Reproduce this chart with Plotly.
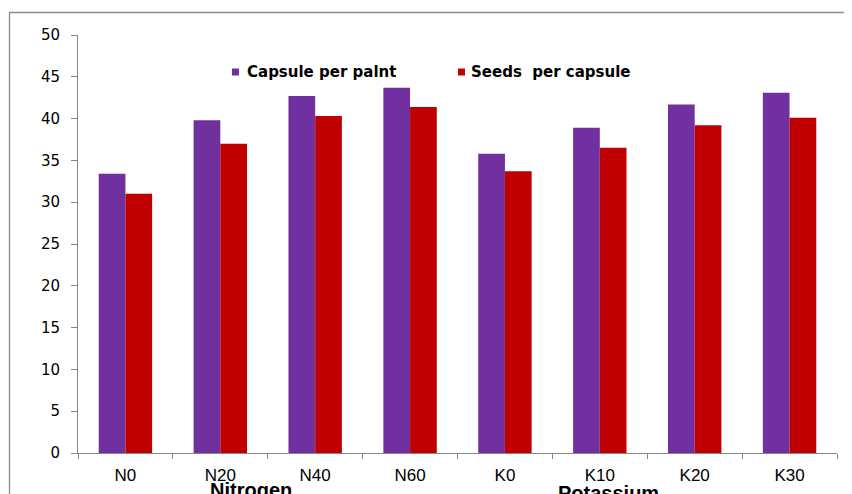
import plotly.graph_objects as go

categories = ["N0", "N20", "N40", "N60", "K0", "K10", "K20", "K30"]
capsule_per_plant = [33.4, 39.8, 42.7, 43.7, 35.8, 38.9, 41.7, 43.1]
seeds_per_capsule = [31.0, 37.0, 40.3, 41.4, 33.7, 36.5, 39.2, 40.1]
series_names = ["Capsule per palnt", "Seeds  per capsule"]
series_colors = ["#7030A0", "#C00000"]
group_labels = ["Nitrogen", "Potassium"]
y_ticks = [0, 5, 10, 15, 20, 25, 30, 35, 40, 45, 50]

arial = "Liberation Sans, Arial, sans-serif"
wide = "DejaVu Sans, sans-serif"
axis_color = "#868686"

# page offset of the figure (body margin) and plot area in page pixels
OFF = 8
PX0, PX1, PY0, PY1 = 78, 837, 35, 453


def px(x):
    return (x - PX0) / (PX1 - PX0)


def py(y):
    return (PY1 - y) / (PY1 - PY0)


fig = go.Figure()
fig.add_trace(go.Bar(x=categories, y=capsule_per_plant, name=series_names[0],
                     marker=dict(color=series_colors[0], line=dict(width=0))))
fig.add_trace(go.Bar(x=categories, y=seeds_per_capsule, name=series_names[1],
                     marker=dict(color=series_colors[1], line=dict(width=0))))

W, H = 852 - OFF, 494 - OFF
shapes = [dict(type="rect", xref="paper", yref="paper", x0=px(9.5), y0=py(520),
               x1=px(900), y1=py(12.5), line=dict(color="#8a8a8a", width=1.3),
               fillcolor="rgba(0,0,0,0)", layer="below")]
annotations = []
legend_sq_x = [232, 458]
legend_txt_x = [245, 469]
for i in range(2):
    shapes.append(dict(type="rect", xref="paper", yref="paper",
                       x0=px(legend_sq_x[i]), x1=px(legend_sq_x[i] + 7),
                       y0=py(75.5), y1=py(68.5), fillcolor=series_colors[i],
                       line=dict(width=0)))
    annotations.append(dict(text="<b>" + series_names[i] + "</b>", xref="paper",
                            yref="paper", x=px(legend_txt_x[i]), y=py(72),
                            xanchor="left", yanchor="middle", showarrow=False,
                            font=dict(family=wide, size=15, color="black")))
group_x = [251, 608]
group_y = [490, 493]
for i in range(2):
    annotations.append(dict(text="<b>" + group_labels[i] + "</b>", xref="paper",
                            yref="paper", x=px(group_x[i]), y=py(group_y[i]),
                            showarrow=False, font=dict(family=arial, size=20),
                            xanchor="center", yanchor="middle"))

fig.update_layout(
    width=W, height=H,
    margin=dict(l=PX0 - OFF, r=W - (PX1 - OFF), t=PY0 - OFF, b=H - (PY1 - OFF)),
    paper_bgcolor="white", plot_bgcolor="white",
    barmode="group", bargap=0.437, bargroupgap=0,
    font=dict(family=arial, size=14, color="black"),
    showlegend=False,
    xaxis=dict(showline=True, linecolor=axis_color, linewidth=1, ticks="outside",
               ticklen=5, tickcolor=axis_color, tickson="boundaries", showgrid=False,
               tickfont=dict(family=arial, size=17), ticklabelstandoff=7,
               fixedrange=True, automargin=False),
    yaxis=dict(range=[0, 50], tickvals=y_ticks, showline=True, linecolor=axis_color,
               linewidth=1, ticks="outside", ticklen=6, tickcolor=axis_color,
               showgrid=False, zeroline=False, tickfont=dict(family=wide, size=15),
               ticklabelstandoff=8, fixedrange=True, automargin=False),
    shapes=shapes,
    annotations=annotations,
)

fig.write_html("out.html")
